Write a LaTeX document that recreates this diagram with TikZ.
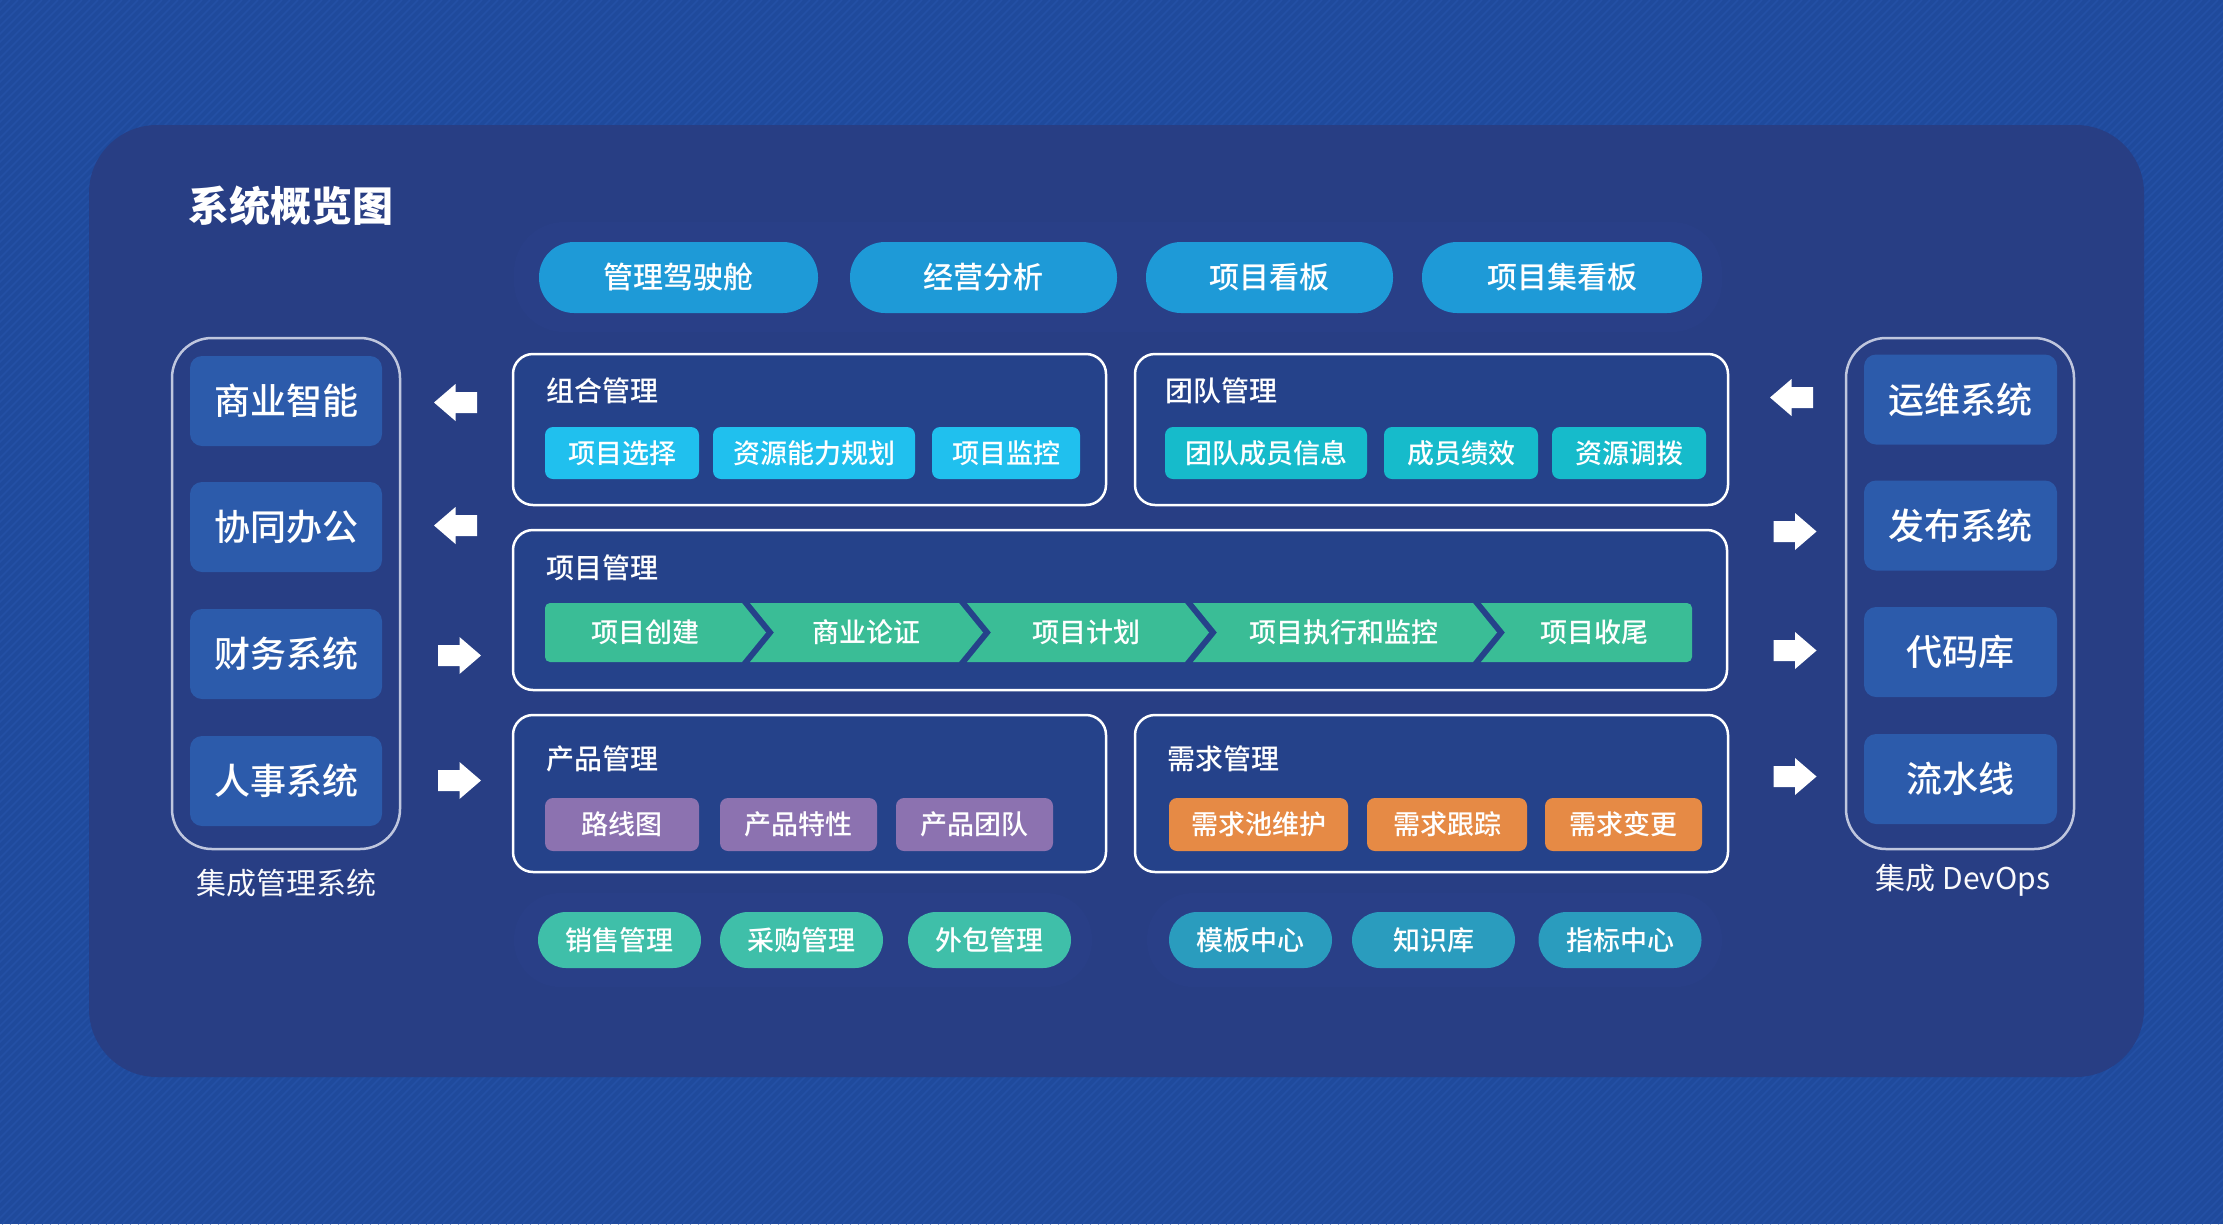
\documentclass[tikz,border=0pt]{standalone}
\usepackage{fontspec}
\setmainfont{Noto Sans CJK SC}
\newfontfamily\medfont{Noto Sans CJK SC Medium}
\newfontfamily\blackfont{Noto Sans CJK SC Black}
\definecolor{bgblue}{HTML}{1F4A9C}
\definecolor{stripe}{HTML}{2450A5}
\definecolor{panel}{HTML}{283E84}
\definecolor{band}{HTML}{293F87}
\definecolor{cont}{HTML}{25428A}
\definecolor{sysbox}{HTML}{2C5BAB}
\definecolor{outl}{HTML}{BFC6DE}
\definecolor{toppill}{HTML}{1E9AD7}
\definecolor{chipA}{HTML}{20C0EE}
\definecolor{chipB}{HTML}{16BBCB}
\definecolor{chev}{HTML}{3ABD96}
\definecolor{chipC}{HTML}{8C72B0}
\definecolor{chipD}{HTML}{E68A45}
\definecolor{pillE}{HTML}{3FBFA9}
\definecolor{pillF}{HTML}{2A9CBE}
\tikzset{
  base/.style={inner sep=0pt, outer sep=0pt, text=white, align=center},
  toppillbox/.style={base, fill=toppill, rounded corners=35pt, minimum height=71pt, font=\medfont\fontsize{30}{36}\selectfont},
  sysnode/.style={base, fill=sysbox, rounded corners=12pt, minimum height=90pt, font=\medfont\fontsize{36}{42}\selectfont},
  group/.style={draw=outl, line width=2.5pt, rounded corners=40pt},
  container/.style={draw=white, line width=2.5pt, fill=cont, rounded corners=20pt},
  header/.style={base, anchor=west, font=\medfont\fontsize{28}{34}\selectfont},
  chip/.style={base, rounded corners=8pt, font=\medfont\fontsize{27}{32}\selectfont},
  bpill/.style={base, rounded corners=28pt, minimum height=56pt, minimum width=163pt, font=\medfont\fontsize{27}{32}\selectfont},
  chevtext/.style={base, font=\medfont\fontsize{27}{32}\selectfont},
  caption/.style={base, text=white!92!outl, font=\fontsize{30}{36}\selectfont},
  pics/barrow/.style={code={\fill[white] (-21.5,-10.5) -- (0,-10.5) -- (0,-18.5) -- (21.5,0) -- (0,18.5) -- (0,10.5) -- (-21.5,10.5) -- cycle;}}
}
\begin{document}
\begin{tikzpicture}[x=1pt,y=-1pt]
\useasboundingbox (0,0) rectangle (2223,1224);
% background with stripes
\fill[bgblue] (0,0) rectangle (2223,1224);
\begin{scope}
\clip (0,0) rectangle (2223,1224);
\foreach \i in {-1230,-1222,...,2230} \draw[stripe, line width=1.6pt] (\i,1224) -- ++(1224,-1224);
\end{scope}
% main panel
\fill[panel, rounded corners=68pt] (89,125) rectangle (2144,1077);
% title
\node[base, anchor=west, font=\blackfont\fontsize{41}{48}\selectfont] (title) at (188,206) {系统概览图};
% subtle bands
\fill[band, rounded corners=50pt] (514,222) rectangle (1722,332);
\fill[band, rounded corners=46pt] (514,893) rectangle (1092,987);
\fill[band, rounded corners=46pt] (1147,893) rectangle (1722,987);
% top pills
\node[toppillbox, minimum width=279pt] (p1) at (678.5,277.5) {管理驾驶舱};
\node[toppillbox, minimum width=267pt] (p2) at (983.5,277.5) {经营分析};
\node[toppillbox, minimum width=247pt] (p3) at (1269.5,277.5) {项目看板};
\node[toppillbox, minimum width=280pt] (p4) at (1562,277.5) {项目集看板};
% left group
\draw[group] (172,338) rectangle (400,849);
\node[sysnode, minimum width=192pt] (l1) at (286,401) {商业智能};
\node[sysnode, minimum width=192pt] (l2) at (286,527) {协同办公};
\node[sysnode, minimum width=192pt] (l3) at (286,654) {财务系统};
\node[sysnode, minimum width=192pt] (l4) at (286,781) {人事系统};
\node[caption] (lcap) at (286,883) {集成管理系统};
% right group
\draw[group] (1846,338) rectangle (2074,849);
\node[sysnode, minimum width=193pt] (r1) at (1960.5,399.5) {运维系统};
\node[sysnode, minimum width=193pt] (r2) at (1960.5,525.5) {发布系统};
\node[sysnode, minimum width=193pt] (r3) at (1960.5,652) {代码库};
\node[sysnode, minimum width=193pt] (r4) at (1960.5,779) {流水线};
\node[caption] (rcap) at (1963,880) {集成 DevOps};
% arrows
\pic[xscale=-1] at (455.5,402.5) {barrow};
\pic[xscale=-1] at (455.5,525.5) {barrow};
\pic at (459.5,655.5) {barrow};
\pic at (459.5,780.5) {barrow};
\pic[xscale=-1] at (1791.5,397.5) {barrow};
\pic at (1795,531.5) {barrow};
\pic at (1795,650.5) {barrow};
\pic at (1795,776.5) {barrow};
% containers
\draw[container] (513,354) rectangle (1106,505);
\draw[container] (1135,354) rectangle (1728,505);
\draw[container] (513,530) rectangle (1727,690);
\draw[container] (513,715) rectangle (1106,872);
\draw[container] (1135,715) rectangle (1728,872);
\node[header] (h1) at (546,391) {组合管理};
\node[header] (h2) at (1165,391) {团队管理};
\node[header] (h3) at (546,568) {项目管理};
\node[header] (h4) at (546,759) {产品管理};
\node[header] (h5) at (1167,759) {需求管理};
% chips 组合
\node[chip, fill=chipA, minimum width=154pt, minimum height=52pt] (a1) at (622,453) {项目选择};
\node[chip, fill=chipA, minimum width=202pt, minimum height=52pt] (a2) at (814,453) {资源能力规划};
\node[chip, fill=chipA, minimum width=148pt, minimum height=52pt] (a3) at (1006,453) {项目监控};
% chips 团队
\node[chip, fill=chipB, minimum width=202pt, minimum height=52pt] (b1) at (1266,453) {团队成员信息};
\node[chip, fill=chipB, minimum width=154pt, minimum height=52pt] (b2) at (1461,453) {成员绩效};
\node[chip, fill=chipB, minimum width=154pt, minimum height=52pt] (b3) at (1629,453) {资源调拨};
% chevrons
\fill[chev] (742,603) -- (766,632.5) -- (742,662) [rounded corners=5pt] -- (545,662) -- (545,603) [sharp corners] -- cycle;
\fill[chev] (750,603) -- (959,603) -- (983,632.5) -- (959,662) -- (750,662) -- (774,632.5) -- cycle;
\fill[chev] (967,603) -- (1185,603) -- (1209,632.5) -- (1185,662) -- (967,662) -- (991,632.5) -- cycle;
\fill[chev] (1193,603) -- (1473,603) -- (1497,632.5) -- (1473,662) -- (1193,662) -- (1217,632.5) -- cycle;
\fill[chev] (1481,603) [rounded corners=5pt] -- (1692,603) -- (1692,662) [sharp corners] -- (1481,662) -- (1505,632.5) -- cycle;
\node[chevtext] (c1) at (645,632.5) {项目创建};
\node[chevtext] (c2) at (866,632.5) {商业论证};
\node[chevtext] (c3) at (1086,632.5) {项目计划};
\node[chevtext] (c4) at (1344,632.5) {项目执行和监控};
\node[chevtext] (c5) at (1594,632.5) {项目收尾};
% chips 产品
\node[chip, fill=chipC, minimum width=154pt, minimum height=53pt] (d1) at (622,824.5) {路线图};
\node[chip, fill=chipC, minimum width=157pt, minimum height=53pt] (d2) at (798.5,824.5) {产品特性};
\node[chip, fill=chipC, minimum width=157pt, minimum height=53pt] (d3) at (974.5,824.5) {产品团队};
% chips 需求
\node[chip, fill=chipD, minimum width=179pt, minimum height=53pt] (e1) at (1258.5,824.5) {需求池维护};
\node[chip, fill=chipD, minimum width=160pt, minimum height=53pt] (e2) at (1447,824.5) {需求跟踪};
\node[chip, fill=chipD, minimum width=157pt, minimum height=53pt] (e3) at (1623.5,824.5) {需求变更};
% bottom pills
\node[bpill, fill=pillE] (f1) at (619.5,940) {销售管理};
\node[bpill, fill=pillE] (f2) at (801.5,940) {采购管理};
\node[bpill, fill=pillE] (f3) at (989.5,940) {外包管理};
\node[bpill, fill=pillF] (g1) at (1250.5,940) {模板中心};
\node[bpill, fill=pillF] (g2) at (1433.5,940) {知识库};
\node[bpill, fill=pillF] (g3) at (1620,940) {指标中心};
\end{tikzpicture}
\end{document}
